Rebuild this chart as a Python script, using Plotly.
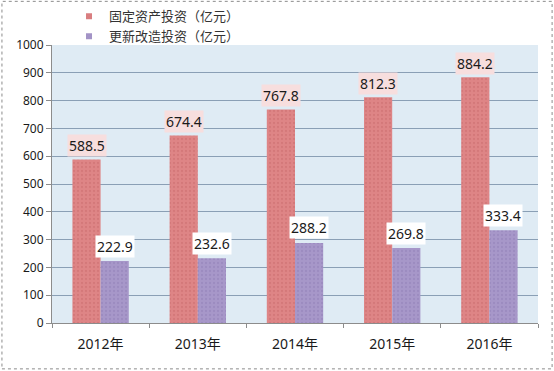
import plotly.graph_objects as go

years = ["2012年", "2013年", "2014年", "2015年", "2016年"]
fixed_invest = [588.5, 674.4, 767.8, 812.3, 884.2]
renew_invest = [222.9, 232.6, 288.2, 269.8, 333.4]
name_fixed = "固定资产投资（亿元）"
name_renew = "更新改造投资（亿元）"
y_ticks = [0, 100, 200, 300, 400, 500, 600, 700, 800, 900, 1000]

RED = "#de8586"
PURPLE = "#a797c9"
FONT = "Noto Sans, Noto Sans CJK SC, sans-serif"

fig = go.Figure()
fig.add_trace(go.Bar(
    x=years, y=fixed_invest, name=name_fixed, showlegend=False,
    marker=dict(color=RED, line=dict(width=0),
                pattern=dict(shape=".", fgcolor="#c96a6c", size=4, solidity=0.25)),
))
fig.add_trace(go.Bar(
    x=years, y=renew_invest, name=name_renew, showlegend=False,
    marker=dict(color=PURPLE, line=dict(width=0),
                pattern=dict(shape=".", fgcolor="#8f7fb5", size=4, solidity=0.25)),
))
# legend entries with small square markers
fig.add_trace(go.Scatter(x=[None], y=[None], mode="markers", name=name_fixed,
                         marker=dict(symbol="square", size=6, color="#d97e80")))
fig.add_trace(go.Scatter(x=[None], y=[None], mode="markers", name=name_renew,
                         marker=dict(symbol="square", size=6, color="#a393c6")))

annotations = []
for yr, v in zip(years, fixed_invest):
    annotations.append(dict(x=yr, y=v, xref="x", yref="y", text=f"{v:.1f}",
                            showarrow=False, xshift=-14, yshift=14,
                            font=dict(size=14, color="#1a1a1a", family=FONT),
                            bgcolor="#f7dede", borderpad=1))
for yr, v in zip(years, renew_invest):
    annotations.append(dict(x=yr, y=v, xref="x", yref="y", text=f"{v:.1f}",
                            showarrow=False, xshift=14, yshift=15,
                            font=dict(size=14, color="#1a1a1a", family=FONT),
                            bgcolor="#ffffff", borderpad=1))

fig.update_layout(
    width=554, height=371,
    margin=dict(l=52, r=16, t=45, b=48, autoexpand=False),
    paper_bgcolor="white",
    plot_bgcolor="#dfebf4",
    barmode="group", bargap=0.42, bargroupgap=0,
    font=dict(family=FONT, size=12, color="#1a1a1a"),
    legend=dict(x=0.035, y=1.157, xanchor="left", yanchor="top",
                orientation="v", bgcolor="rgba(0,0,0,0)",
                font=dict(size=13, color="#333333"),
                itemwidth=30, tracegroupgap=0),
    showlegend=True,
    annotations=annotations,
    shapes=[dict(type="rect", xref="paper", yref="paper",
                 x0=-0.103, x1=1.029, y0=-0.165, y1=1.157,
                 line=dict(color="#8c8c8c", width=1, dash="dot"),
                 fillcolor="rgba(0,0,0,0)", layer="below")],
)
fig.update_xaxes(showline=True, linecolor="#8c8c8c", linewidth=1,
                 ticks="outside", ticklen=4, tickcolor="#8c8c8c",
                 tickson="boundaries",
                 tickfont=dict(size=14), ticklabelstandoff=8, showgrid=False)
fig.update_yaxes(range=[0, 1000], tickvals=y_ticks, showline=True,
                 linecolor="#8c8c8c", linewidth=1, ticks="outside",
                 ticklen=5, tickcolor="#8c8c8c", gridcolor="#8a9fb5",
                 gridwidth=1, tickfont=dict(size=12), zeroline=False)

fig.write_html("out.html")
